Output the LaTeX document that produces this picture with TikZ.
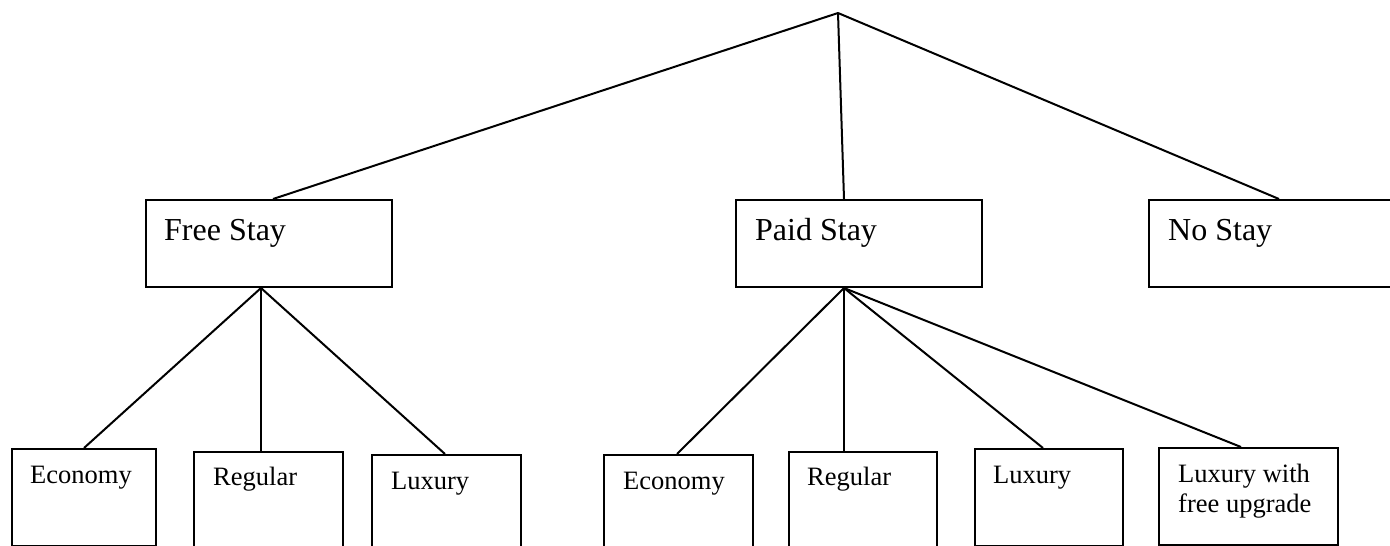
\documentclass[tikz,border=0pt]{standalone}
\usepackage{fontspec}
\setmainfont{Liberation Serif}
\usetikzlibrary{positioning, calc}

\begin{document}
\begin{tikzpicture}[x=1pt, y=-1pt,
	box/.style={shape=rectangle, draw=black, line width=2pt, anchor=north west, inner sep=0pt},
	topbox/.style={box, minimum width=246pt, minimum height=87pt},
	leafbox/.style={box, minimum width=149pt, minimum height=97pt},
	bigtxt/.style={anchor=base west, inner sep=0pt, font=\fontsize{32}{36}\selectfont},
	smalltxt/.style={anchor=base west, inner sep=0pt, align=left, font=\fontsize{26.5}{30}\selectfont},
	link/.style={line width=2pt}]
	\useasboundingbox (0,0) rectangle (1390,546);
	\clip (0,0) rectangle (1390,546);

	% top of the tree
	\coordinate (root) at (838, 13);

	% middle row
	\node[topbox] (fs) at (145, 199) {};
	\node[topbox] (ps) at (735, 199) {};
	\node[topbox] (ns) at (1148, 199) {};
	\node[bigtxt] (fst) at ([shift={(19,41)}]fs.north west) {Free Stay};
	\node[bigtxt] (pst) at ([shift={(20,41)}]ps.north west) {Paid Stay};
	\node[bigtxt] (nst) at ([shift={(20,41)}]ns.north west) {No Stay};

	% bottom row
	\node[leafbox, minimum width=144pt] (ec1) at (11, 448) {};
	\node[leafbox] (rg1) at (193, 451) {};
	\node[leafbox] (lx1) at (371, 454) {};
	\node[leafbox] (ec2) at (603, 454) {};
	\node[leafbox, minimum width=148pt] (rg2) at (788, 451) {};
	\node[leafbox, minimum width=148pt] (lx2) at (974, 448) {};
	\node[leafbox, minimum width=179pt] (lf) at (1158, 447) {};
	\node[smalltxt] (ec1t) at ([shift={(19,35)}]ec1.north west) {Economy};
	\node[smalltxt] (rg1t) at ([shift={(20,34)}]rg1.north west) {Regular};
	\node[smalltxt] (lx1t) at ([shift={(20,35)}]lx1.north west) {Luxury};
	\node[smalltxt] (ec2t) at ([shift={(20,35)}]ec2.north west) {Economy};
	\node[smalltxt] (rg2t) at ([shift={(19,34)}]rg2.north west) {Regular};
	\node[smalltxt] (lx2t) at ([shift={(19,35)}]lx2.north west) {Luxury};
	\node[smalltxt] (lft) at ([shift={(20,65)}]lf.north west) {Luxury with\\free upgrade};

	\path [link] (root) edge ([xshift=4pt]fs.north);
	\path [link] (root) edge ([xshift=-15pt]ps.north);
	\path [link] (root) edge ([xshift=7pt]ns.north);

	\path [link] ([xshift=-8pt]fs.south) edge (ec1.north);
	\path [link] ([xshift=-8pt]fs.south) edge ([xshift=-7.5pt]rg1.north);
	\path [link] ([xshift=-8pt]fs.south) edge ([xshift=-1.5pt]lx1.north);

	\path [link] ([xshift=-15pt]ps.south) edge ([xshift=-1.5pt]ec2.north);
	\path [link] ([xshift=-15pt]ps.south) edge ([xshift=-19pt]rg2.north);
	\path [link] ([xshift=-15pt]ps.south) edge ([xshift=-6pt]lx2.north);
	\path [link] ([xshift=-15pt]ps.south) edge ([xshift=-7.5pt]lf.north);
\end{tikzpicture}
\end{document}
